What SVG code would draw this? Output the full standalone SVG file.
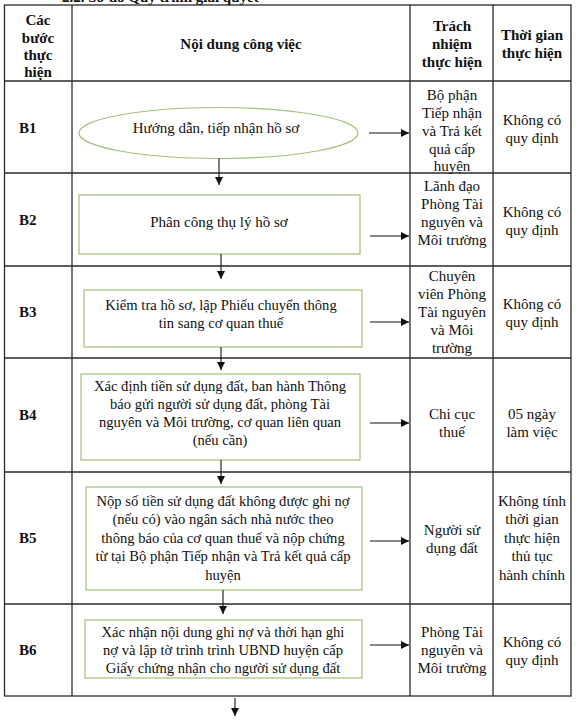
<svg xmlns="http://www.w3.org/2000/svg" width="576" height="720" viewBox="0 0 576 720">
<style>
text{font-family:"Liberation Serif","Times New Roman",serif;font-size:15px;fill:#111;text-anchor:middle;dominant-baseline:central}
.b{font-weight:bold}
.lbl{text-anchor:start;font-weight:bold}
.t{font-size:14.6px}
.grid{stroke:#2a2a2a;stroke-width:1.3;fill:none}
.box{fill:#fff;stroke:#a3c07c;stroke-width:1.2}
.conn line{stroke:#111;stroke-width:1.1}
</style>
<defs>
<marker id="ah" markerUnits="userSpaceOnUse" markerWidth="9" markerHeight="8" refX="8" refY="4" orient="auto">
<path d="M0,0 L8,4 L0,8 Z" fill="#111"/>
</marker>
</defs>
<rect width="576" height="720" fill="#fff"/>
<text class="b" x="62" y="-3" style="text-anchor:start">2.2. Sơ đồ Quy trình giải quyết</text>
<g id="table">
<rect class="grid" x="4.5" y="5" width="566.5" height="691"/>
<line class="grid" x1="72" y1="5" x2="72" y2="696"/>
<line class="grid" x1="410" y1="5" x2="410" y2="696"/>
<line class="grid" x1="493" y1="5" x2="493" y2="696"/>
<line class="grid" x1="4.5" y1="81" x2="571" y2="81"/>
<line class="grid" x1="4.5" y1="173" x2="571" y2="173"/>
<line class="grid" x1="4.5" y1="266" x2="571" y2="266"/>
<line class="grid" x1="4.5" y1="358" x2="571" y2="358"/>
<line class="grid" x1="4.5" y1="472" x2="571" y2="472"/>
<line class="grid" x1="4.5" y1="604" x2="571" y2="604"/>
</g>
<g id="header">
<text class="b" x="38" y="20">Các</text>
<text class="b" x="38" y="38">bước</text>
<text class="b" x="38" y="55">thực</text>
<text class="b" x="38" y="72">hiện</text>
<text class="b" x="241" y="44">Nội dung công việc</text>
<text class="b" x="452" y="26">Trách</text>
<text class="b" x="452" y="44">nhiệm</text>
<text class="b" x="452" y="62">thực hiện</text>
<text class="b" x="532" y="35">Thời gian</text>
<text class="b" x="532" y="53">thực hiện</text>
</g>
<g id="row-b1">
<text class="lbl" x="19" y="128">B1</text>
<text x="452" y="95">Bộ phận</text>
<text x="452" y="113">Tiếp nhận</text>
<text x="452" y="131">và Trả kết</text>
<text x="452" y="149">quả cấp</text>
<text x="452" y="166">huyện</text>
<text x="532" y="120">Không có</text>
<text x="532" y="138">quy định</text>
</g>
<g id="node-b1">
<ellipse class="box" cx="218.5" cy="133" rx="139.5" ry="25.5"/>
<text x="216" y="128">Hướng dẫn, tiếp nhận hồ sơ</text>
</g>
<g id="row-b2">
<text class="lbl" x="19" y="220">B2</text>
<text x="452" y="186">Lãnh đạo</text>
<text x="452" y="204">Phòng Tài</text>
<text x="452" y="222">nguyên và</text>
<text x="452" y="240">Môi trường</text>
<text x="532" y="212">Không có</text>
<text x="532" y="230">quy định</text>
</g>
<g id="node-b2">
<rect class="box" x="79" y="195" width="281" height="59"/>
<text x="219" y="222">Phân công thụ lý hồ sơ</text>
</g>
<g id="row-b3">
<text class="lbl" x="19" y="312">B3</text>
<text x="452" y="276">Chuyên</text>
<text x="452" y="294">viên Phòng</text>
<text x="452" y="312">Tài nguyên</text>
<text x="452" y="330">và Môi</text>
<text x="452" y="348">trường</text>
<text x="532" y="304">Không có</text>
<text x="532" y="322">quy định</text>
</g>
<g id="node-b3">
<rect class="box" x="84" y="290" width="278" height="57"/>
<text class="t" x="221" y="305">Kiểm tra hồ sơ, lập Phiếu chuyển thông</text>
<text class="t" x="221" y="323">tin sang cơ quan thuế</text>
</g>
<g id="row-b4">
<text class="lbl" x="19" y="415">B4</text>
<text x="452" y="414">Chi cục</text>
<text x="452" y="432">thuế</text>
<text x="532" y="414">05 ngày</text>
<text x="532" y="432">làm việc</text>
</g>
<g id="node-b4">
<rect class="box" x="81" y="374" width="279" height="86"/>
<text class="t" x="220" y="386">Xác định tiền sử dụng đất, ban hành Thông</text>
<text class="t" x="220" y="404">báo gửi người sử dụng đất, phòng Tài</text>
<text class="t" x="220" y="422">nguyên và Môi trường, cơ quan liên quan</text>
<text class="t" x="220" y="440">(nếu cần)</text>
</g>
<g id="row-b5">
<text class="lbl" x="19" y="538">B5</text>
<text x="452" y="530">Người sử</text>
<text x="452" y="548">dụng đất</text>
<text x="532" y="501">Không tính</text>
<text x="532" y="519">thời gian</text>
<text x="532" y="538">thực hiện</text>
<text x="532" y="556">thủ tục</text>
<text x="532" y="575">hành chính</text>
</g>
<g id="node-b5">
<rect class="box" x="86" y="487" width="276" height="103"/>
<text class="t" x="223" y="501">Nộp số tiền sử dụng đất không được ghi nợ</text>
<text class="t" x="223" y="519">(nếu có) vào ngân sách nhà nước theo</text>
<text class="t" x="223" y="538">thông báo của cơ quan thuế và nộp chứng</text>
<text class="t" x="223" y="556">từ tại Bộ phận Tiếp nhận và Trả kết quả cấp</text>
<text class="t" x="223" y="575">huyện</text>
</g>
<g id="row-b6">
<text class="lbl" x="19" y="650">B6</text>
<text x="452" y="632">Phòng Tài</text>
<text x="452" y="650">nguyên và</text>
<text x="452" y="668">Môi trường</text>
<text x="532" y="642">Không có</text>
<text x="532" y="660">quy định</text>
</g>
<g id="node-b6">
<rect class="box" x="85" y="620" width="277" height="58"/>
<text class="t" x="223" y="632">Xác nhận nội dung ghi nợ và thời hạn ghi</text>
<text class="t" x="223" y="650">nợ và lập tờ trình trình UBND huyện cấp</text>
<text class="t" x="223" y="668">Giấy chứng nhận cho người sử dụng đất</text>
</g>
<g id="connectors" class="conn">
<line x1="219" y1="158.5" x2="219" y2="185" marker-end="url(#ah)"/>
<line x1="221" y1="254" x2="221" y2="279" marker-end="url(#ah)"/>
<line x1="221" y1="347" x2="221" y2="370" marker-end="url(#ah)"/>
<line x1="221" y1="460" x2="221" y2="484" marker-end="url(#ah)"/>
<line x1="223" y1="590" x2="223" y2="614" marker-end="url(#ah)"/>
<line x1="235" y1="698" x2="235" y2="716" marker-end="url(#ah)"/>
<line x1="369" y1="133" x2="409" y2="133" marker-end="url(#ah)"/>
<line x1="370" y1="236" x2="409" y2="236" marker-end="url(#ah)"/>
<line x1="370" y1="322" x2="409" y2="322" marker-end="url(#ah)"/>
<line x1="370" y1="423" x2="409" y2="423" marker-end="url(#ah)"/>
<line x1="370" y1="541" x2="409" y2="541" marker-end="url(#ah)"/>
<line x1="370" y1="645" x2="409" y2="645" marker-end="url(#ah)"/>
</g>
</svg>
